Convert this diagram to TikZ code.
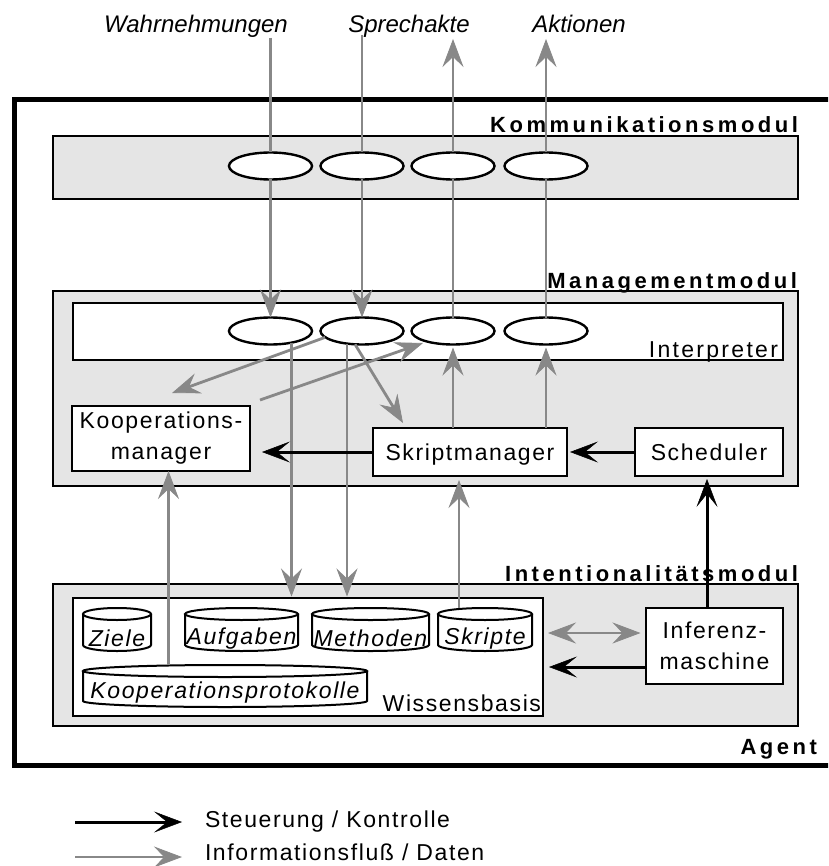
\documentclass[tikz,border=0pt]{standalone}
\usepackage{fontspec}
\setmainfont{Liberation Sans}
\newfontfamily\trackfont{Liberation Sans}[LetterSpace=7]
\newfontfamily\widefont{Liberation Sans}[LetterSpace=10]
\newfontfamily\modfont{Liberation Sans}[LetterSpace=16]
\usetikzlibrary{arrows.meta,shapes.geometric,calc}

\definecolor{flowgray}{RGB}{136,136,136}
\definecolor{modfill}{RGB}{229,229,229}

% cylinder-shaped store: name, centre x, width, top y, bottom y, baseline y, text
\newcommand{\storecyl}[7]{%
  \node[cylbody, minimum width=#3pt, minimum height={(#5-#4)*1pt}, anchor=north] (#1) at (#2,-#4) {};
  \draw[cylline] ($(#1.north west)+(0,-6)$) -- ($(#1.south west)+(0,6)$)
     arc[start angle=180, end angle=360, x radius={#3*0.5pt}, y radius=6pt]
     -- ($(#1.north east)+(0,-6)$);
  \draw[cylline] ($(#1.north)+(0,-6)$) ellipse[x radius={#3*0.5pt}, y radius=6pt];
  \node[cyltext, anchor=base] (#1-t) at (#2,-#6) {#7};
}

\begin{document}
\begin{tikzpicture}[x=1pt, y=1pt,
  every node/.style={inner sep=0pt, outer sep=0pt},
  txt/.style={font=\trackfont\fontsize{23}{31}\selectfont},
  cyltext/.style={font=\trackfont\itshape\fontsize{23}{28}\selectfont},
  toplabel/.style={font=\itshape\fontsize{24}{28}\selectfont, anchor=base},
  modlabel/.style={font=\modfont\bfseries\fontsize{22}{26}\selectfont, anchor=base east},
  modbox/.style={draw, line width=2.6pt, fill=modfill, anchor=north west},
  whitebox/.style={draw, line width=2.6pt, fill=white, anchor=north west, txt},
  onebox/.style={whitebox, text height=17pt, text depth=0pt},
  port/.style={draw, ellipse, line width=2.4pt, fill=white, minimum width=83pt, minimum height=27pt},
  cylbody/.style={},
  cylline/.style={draw, line width=2pt},
  blackhead/.tip={Stealth[length=28pt, width=21pt, inset=13pt, line width=0.5pt, color=black, fill=black]},
  grayhead/.tip={Stealth[length=28pt, width=21pt, inset=10pt, line width=0.8pt, color=flowgray, fill=flowgray]},
  ctrl/.style={draw=black, line width=3pt, -blackhead},
  info/.style={draw=flowgray, line width=2.8pt, -grayhead},
  infoboth/.style={draw=flowgray, line width=2.8pt, grayhead-grayhead},
  infoline/.style={draw=flowgray, line width=2.8pt},
]
\useasboundingbox (0,0) rectangle (828,-866);
\clip (0,0) rectangle (828,-866);

% agent frame, open towards the right
\draw[line width=5pt] (835,-99.5) -- (14.5,-99.5) -- (14.5,-765.5) -- (835,-765.5);
\node[modlabel] (agentlbl) at (817,-754) {Agent};

% --- communication module ---
\node[modbox, minimum width=745pt, minimum height=63pt] (komm) at (53,-136) {};
\node[modlabel] (kommlbl) at (798,-133) {Kommunikationsmodul};
\node[port] (ke1) at (270.5,-166) {};
\node[port] (ke2) at (362,-166) {};
\node[port] (ke3) at (453,-166) {};
\node[port] (ke4) at (546,-166) {};

% --- management module ---
\node[modbox, minimum width=745pt, minimum height=195pt] (mgmt) at (53,-291) {};
\node[modlabel] (mgmtlbl) at (797,-288) {Managementmodul};
\node[whitebox, minimum width=710pt, minimum height=57pt] (interp) at (73,-303) {};
\node[font=\widefont\fontsize{23}{28}\selectfont, anchor=base east] (interplbl) at (778,-357) {Interpreter};
\node[port] (ie1) at (270.5,-331) {};
\node[port] (ie2) at (362,-331) {};
\node[port] (ie3) at (453,-331) {};
\node[port] (ie4) at (546,-331) {};
\node[whitebox, minimum width=178pt, minimum height=65pt, align=center] (koop) at (72,-406) {Kooperations-\\manager};
\node[onebox, minimum width=194pt, minimum height=48pt] (skript) at (373,-428) {Skriptmanager};
\node[onebox, minimum width=148pt, minimum height=48pt] (sched) at (635,-428) {Scheduler};

% --- intentionality module ---
\node[modbox, minimum width=745pt, minimum height=142pt] (intent) at (53,-584) {};
\node[modlabel] (intentlbl) at (798,-581) {Intentionalitätsmodul};
\node[whitebox, minimum width=470pt, minimum height=118pt] (wissen) at (73,-598) {};
\node[txt, anchor=base east] (wissenlbl) at (541,-711) {Wissensbasis};
\node[whitebox, minimum width=137pt, minimum height=76pt, align=center] (inf) at (646,-608) {Inferenz-\\maschine};

\storecyl{zie}{117}{68}{608}{651}{646}{Ziele}
\storecyl{auf}{241.5}{113}{608}{651}{644}{Aufgaben}
\storecyl{met}{370.5}{117}{608}{651}{646}{Methoden}
\storecyl{skr}{485}{94}{608}{651}{644}{Skripte}
\storecyl{kpr}{225}{284}{665}{707}{698}{Kooperationsprotokolle}

% --- outside world ---
\node[toplabel] (wahr) at (196,-33) {Wahrnehmungen};
\node[toplabel] (sprech) at (409,-33) {Sprechakte};
\node[toplabel] (akt) at (579,-33) {Aktionen};
\coordinate (wIn) at (270.5,-38);
\coordinate (sIn) at (362,-35);
\coordinate (sOut) at (453,-39);
\coordinate (aOut) at (546,-39);

% perceptions and speech acts in, speech acts and actions out
\draw[infoline] (wIn) -- (ke1.north);
\draw[info] (ke1.south) -- (ie1.north);
\draw[infoline] (sIn) -- (ke2.north);
\draw[info] (ke2.south) -- (ie2.north);
\draw[infoline] (ie3.north) -- (ke3.south);
\draw[info] (ke3.north) -- (sOut);
\draw[infoline] (ie4.north) -- (ke4.south);
\draw[info] (ke4.north) -- (aOut);

% interpreter down into the knowledge base
\coordinate (d1) at ($(ie1.center)+(21,-11.7)$);
\coordinate (d2) at ($(ie2.center)+(-15,-12.6)$);
\draw[info, shorten >=1.5pt] (d1) -- (d1 |- wissen.north);
\draw[info, shorten >=1.5pt] (d2) -- (d2 |- wissen.north);

% interpreter <-> managers
\draw[info] ($(ie2.center)+(-37,-6.4)$) -- ($(koop.north)+(11,13)$);
\draw[info] ($(koop.north east)+(10,6)$) -- ($(ie3.center)+(-30,-12)$);
\draw[info] ($(ie2.center)+(-7,-13.3)$) -- ($(skript.north west)+(30,5)$);
\draw[info, shorten >=3pt] (ie3.south |- skript.north) -- (ie3.south);
\draw[info, shorten >=3pt] (ie4.south |- skript.north) -- (ie4.south);

% knowledge base up into the managers
\coordinate (kp1) at ($(kpr.north)+(-56.5,0)$);
\draw[info] (kp1) -- (kp1 |- koop.south);
\coordinate (sk1) at ($(skr.north)+(-26,0)$);
\draw[info, shorten >=4pt] (sk1) -- (sk1 |- skript.south);

% inference engine
\draw[infoboth, shorten <=5.5pt, shorten >=5pt] ($(inf.west)+(0,13)$) -- ($(inf.west -| wissen.east)+(0,13)$);
\draw[ctrl, shorten >=6pt] ($(inf.west)+(0,-21)$) -- ($(inf.west -| wissen.east)+(0,-21)$);
\coordinate (i1) at ($(inf.north)+(-7.5,0)$);
\draw[ctrl, shorten >=3pt] (i1) -- (i1 |- sched.south);

% control inside the management module
\draw[ctrl, shorten >=3pt] (sched.west) -- (skript.east);
\draw[ctrl, shorten >=12pt] (skript.west) -- (skript.west -| koop.east);

% legend
\coordinate (lc1) at (75,-822);
\coordinate (lc2) at (182,-822);
\coordinate (li1) at (75,-857);
\coordinate (li2) at (182,-857);
\draw[ctrl] (lc1) -- (lc2);
\draw[info] (li1) -- (li2);
\node[txt, anchor=base west] (lgc) at (205,-827) {Steuerung / Kontrolle};
\node[txt, anchor=base west] (lgi) at (205,-860) {Informationsfluß / Daten};
\end{tikzpicture}
\end{document}
